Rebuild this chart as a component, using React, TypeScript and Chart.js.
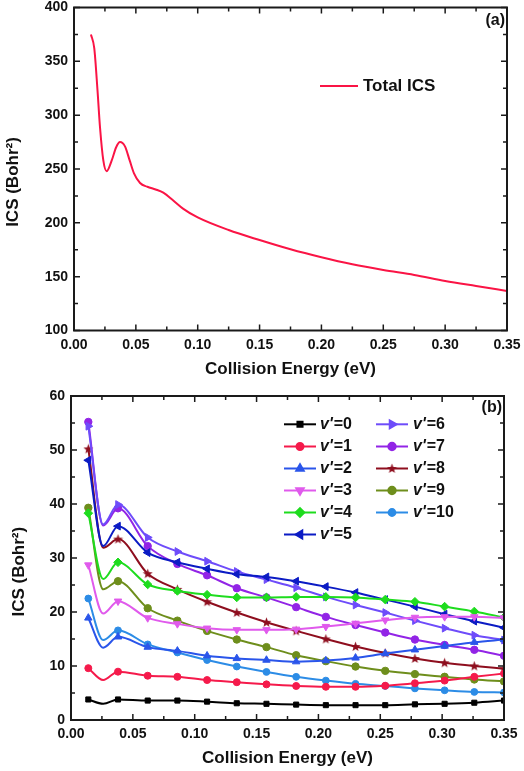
import React, { useEffect, useRef } from 'react';
import { Chart, registerables } from 'chart.js';
import { drawPoint } from 'chart.js/helpers';

Chart.register(...registerables);

const FONT = '"Liberation Sans", Arial, Helvetica, sans-serif';

// ---------- panel (a): total ICS ----------
const totalEnergies = [
  0.0137, 0.0164, 0.019, 0.021, 0.0237, 0.0264, 0.0305, 0.034, 0.0372, 0.0412,
  0.045, 0.0485, 0.0534, 0.0593, 0.066, 0.0722, 0.08, 0.0884, 0.1, 0.125,
  0.15, 0.175, 0.2, 0.225, 0.25, 0.275, 0.3, 0.325, 0.35,
];
const totalIcs = [
  375, 362, 323, 289, 258, 248, 258, 270, 275, 271,
  258, 246, 237, 233.5, 231, 228, 221, 213, 205, 193.3,
  184, 175.4, 168, 161.5, 156.2, 151.6, 146, 141.3, 136.7,
];
const totalLabel = 'Total ICS';
const yTicksA = [100, 150, 200, 250, 300, 350, 400];

// ---------- panel (b): state-resolved ICS ----------
const energies = [
  0.014, 0.026, 0.038, 0.062, 0.086, 0.11, 0.134, 0.158,
  0.182, 0.206, 0.23, 0.254, 0.278, 0.302, 0.326, 0.35,
];
const markerEnergies = [
  0.014, 0.038, 0.062, 0.086, 0.11, 0.134, 0.158,
  0.182, 0.206, 0.23, 0.254, 0.278, 0.302, 0.326, 0.35,
];
const v0 = [3.8, 3.0, 3.8, 3.6, 3.6, 3.4, 3.1, 3.0, 2.85, 2.75, 2.75, 2.75, 2.9, 3.0, 3.2, 3.6];
const v1 = [9.6, 7.4, 8.95, 8.2, 8.0, 7.4, 7.0, 6.6, 6.3, 6.15, 6.15, 6.35, 6.8, 7.3, 8.0, 8.6];
const v2 = [18.9, 13.4, 15.4, 13.5, 12.8, 11.9, 11.4, 11.1, 10.8, 11.0, 11.5, 12.3, 13.0, 13.7, 14.4, 14.9];
const v3 = [28.7, 19.7, 22.0, 18.9, 17.8, 17.0, 16.7, 16.7, 16.8, 17.3, 17.9, 18.5, 19.0, 19.1, 19.1, 18.9];
const v4 = [38.3, 26.1, 29.2, 25.1, 23.9, 23.2, 22.7, 22.7, 22.8, 22.8, 22.7, 22.3, 21.9, 21.0, 20.1, 19.0];
const v5 = [48.1, 32.2, 35.9, 31.0, 29.2, 28.0, 27.0, 26.5, 25.7, 24.7, 23.6, 22.3, 21.0, 19.6, 18.3, 17.1];
const v6 = [54.4, 36.2, 39.9, 33.8, 31.2, 29.4, 27.5, 26.0, 24.5, 22.8, 21.3, 19.9, 18.4, 17.0, 15.7, 14.8];
const v7 = [55.2, 36.0, 39.2, 32.2, 28.9, 26.8, 24.4, 22.7, 20.9, 19.1, 17.6, 16.2, 14.9, 13.9, 13.0, 11.9];
const v8 = [50.2, 31.9, 33.5, 27.1, 24.2, 21.9, 19.9, 18.1, 16.5, 15.0, 13.6, 12.4, 11.4, 10.6, 10.0, 9.5];
const v9 = [39.3, 24.2, 25.7, 20.7, 18.4, 16.5, 14.9, 13.5, 12.0, 10.9, 9.9, 9.1, 8.5, 8.0, 7.5, 7.15];
const v10 = [22.5, 14.8, 16.6, 14.0, 12.5, 11.1, 9.9, 8.9, 8.0, 7.3, 6.7, 6.3, 5.85, 5.5, 5.2, 5.1];

const seriesValues = [v0, v1, v2, v3, v4, v5, v6, v7, v8, v9, v10];
const seriesLabels = ["v'=0", "v'=1", "v'=2", "v'=3", "v'=4", "v'=5", "v'=6", "v'=7", "v'=8", "v'=9", "v'=10"];
const seriesColors = [
  '#000000', '#F51A4B', '#2A55EA', '#E05AEC', '#1EDC1E', '#0B1BC4',
  '#6E4CFA', '#9224E6', '#8E0E1E', '#6E8E1C', '#2C8CE6',
];
const seriesMarkers = ['rect', 'circle', 'triangle', 'triangle', 'rectRot', 'triangle', 'triangle', 'circle', 'star', 'circle', 'circle'];
const seriesRotations = [0, 0, 0, 180, 0, 270, 90, 0, 0, 0, 0];
const seriesRadii = [3.6, 3.5, 4.3, 4.3, 4.3, 4.5, 4.5, 3.7, 4, 3.7, 3.4];
const yTicksB = [0, 10, 20, 30, 40, 50, 60];

const xTicks = [0, 0.05, 0.1, 0.15, 0.2, 0.25, 0.3, 0.35];
const xTitle = 'Collision Energy (eV)';
const yTitle = 'ICS (Bohr\u00B2)';

function makeStar(color: string) {
  const c = document.createElement('canvas');
  c.width = 11;
  c.height = 11;
  const g = c.getContext('2d')!;
  g.fillStyle = color;
  g.beginPath();
  for (let i = 0; i < 10; i++) {
    const r = i % 2 === 0 ? 5.2 : 2.2;
    const a = -Math.PI / 2 + (i * Math.PI) / 5;
    const x = 5.5 + r * Math.cos(a);
    const y = 5.8 + r * Math.sin(a);
    if (i === 0) g.moveTo(x, y);
    else g.lineTo(x, y);
  }
  g.closePath();
  g.fill();
  return c;
}

const frameTicksPlugin = {
  id: 'frameTicks',
  afterDraw(chart: any) {
    const { ctx, chartArea } = chart;
    const { left, right, top, bottom } = chartArea;
    const xs = chart.scales.x;
    const ys = chart.scales.y;
    const xv = xs.ticks.map((t: any) => t.value);
    const yv = ys.ticks.map((t: any) => t.value);
    const mids = (a: number[]) => a.slice(1).map((v, i) => (v + a[i]) / 2);
    ctx.save();
    ctx.strokeStyle = '#1a1a1a';
    ctx.lineWidth = 1.5;
    ctx.beginPath();
    const xt = (vals: number[], len: number) => {
      vals.forEach((v) => {
        const p = xs.getPixelForValue(v);
        ctx.moveTo(p, bottom);
        ctx.lineTo(p, bottom - len);
        ctx.moveTo(p, top);
        ctx.lineTo(p, top + len);
      });
    };
    const yt = (vals: number[], len: number) => {
      vals.forEach((v) => {
        const p = ys.getPixelForValue(v);
        ctx.moveTo(left, p);
        ctx.lineTo(left + len, p);
        ctx.moveTo(right, p);
        ctx.lineTo(right - len, p);
      });
    };
    xt(xv, 6);
    xt(mids(xv), 4);
    yt(yv, 6);
    yt(mids(yv), 4);
    ctx.stroke();
    ctx.lineWidth = 2;
    ctx.strokeRect(left, top, right - left, bottom - top);
    ctx.restore();
  },
};

const annotPlugin = {
  id: 'annot',
  afterDraw(chart: any, _args: any, opts: any) {
    const { ctx } = chart;
    ctx.save();
    ctx.fillStyle = '#111';
    // y title
    ctx.translate(opts.yTitleX, opts.yTitleY);
    ctx.rotate(-Math.PI / 2);
    ctx.font = `bold 17px ${FONT}`;
    ctx.textAlign = 'center';
    ctx.textBaseline = 'middle';
    ctx.fillText(yTitle, 0, 0);
    ctx.restore();
    ctx.save();
    ctx.fillStyle = '#111';
    ctx.font = `bold 16px ${FONT}`;
    ctx.textAlign = 'right';
    ctx.textBaseline = 'middle';
    ctx.fillText(opts.panel, opts.panelX, opts.panelY);
    ctx.restore();
  },
};

const legendAPlugin = {
  id: 'legendA',
  afterDraw(chart: any) {
    const { ctx } = chart;
    const ds = chart.data.datasets[0];
    ctx.save();
    ctx.strokeStyle = ds.borderColor;
    ctx.lineWidth = 2;
    ctx.beginPath();
    ctx.moveTo(320, 86);
    ctx.lineTo(358, 86);
    ctx.stroke();
    ctx.fillStyle = '#111';
    ctx.font = `bold 17px ${FONT}`;
    ctx.textBaseline = 'middle';
    ctx.fillText(ds.label, 363, 86);
    ctx.restore();
  },
};

const legendBPlugin = {
  id: 'legendB',
  afterDraw(chart: any) {
    const { ctx } = chart;
    const rowsY = [44.3, 66.5, 88.5, 110.5, 132.5, 154.5];
    chart.data.datasets.forEach((ds: any, i: number) => {
      const col = i < 6 ? 0 : 1;
      const row = i < 6 ? i : i - 6;
      const y = rowsY[row];
      const lx0 = col === 0 ? 284 : 376;
      const tx = col === 0 ? 320 : 413;
      ctx.save();
      ctx.strokeStyle = ds.borderColor;
      ctx.fillStyle = ds.borderColor;
      ctx.lineWidth = 2;
      ctx.beginPath();
      ctx.moveTo(lx0, y);
      ctx.lineTo(lx0 + 32, y);
      ctx.stroke();
      drawPoint(ctx, {
        pointStyle: ds.pointStyle,
        rotation: ds.pointRotation || 0,
        radius: ds.legendRadius,
        borderWidth: 1,
      } as any, lx0 + 16, y);
      ctx.fillStyle = '#111';
      ctx.textBaseline = 'middle';
      const lab: string = ds.label;
      const it = lab.slice(0, 2);
      const rest = lab.slice(2);
      ctx.font = `italic bold 16px ${FONT}`;
      ctx.fillText(it, tx, y);
      const w = ctx.measureText(it).width;
      ctx.font = `bold 16px ${FONT}`;
      ctx.fillText(rest, tx + w + 1, y);
      ctx.restore();
    });
  },
};

const tickFont = { family: FONT, size: 14, weight: 'bold' as const };
const titleFont = { family: FONT, size: 17, weight: 'bold' as const };

function baseScales(yTicks: number[], yWidth: number, xHeight: number, xTitlePadBottom: number) {
  return {
    x: {
      type: 'linear' as const,
      min: 0,
      max: 0.35,
      afterBuildTicks: (s: any) => {
        s.ticks = xTicks.map((v) => ({ value: v }));
      },
      afterFit: (s: any) => {
        s.height = xHeight;
        s.paddingLeft = 0;
        s.paddingRight = 0;
      },
      grid: { display: false, drawTicks: false },
      border: { display: false },
      ticks: {
        font: tickFont,
        color: '#111',
        padding: 6,
        maxRotation: 0,
        autoSkip: false,
        callback: (v: any) => Number(v).toFixed(2),
      },
      title: {
        display: true,
        text: xTitle,
        font: titleFont,
        color: '#111',
        padding: { top: 0, bottom: xTitlePadBottom },
      },
    },
    y: {
      type: 'linear' as const,
      min: yTicks[0],
      max: yTicks[yTicks.length - 1],
      afterBuildTicks: (s: any) => {
        s.ticks = yTicks.map((v) => ({ value: v }));
      },
      afterFit: (s: any) => {
        s.width = yWidth;
        s.paddingTop = 0;
        s.paddingBottom = 0;
      },
      grid: { display: false, drawTicks: false },
      border: { display: false },
      ticks: {
        font: tickFont,
        color: '#111',
        padding: 6,
        autoSkip: false,
        callback: (v: any) => String(v),
      },
    },
  };
}

export default function App() {
  const refA = useRef<HTMLCanvasElement>(null);
  const refB = useRef<HTMLCanvasElement>(null);

  useEffect(() => {
    const chartA = new Chart(refA.current!, {
      type: 'line',
      data: {
        datasets: [
          {
            label: totalLabel,
            data: totalEnergies.map((x, i) => ({ x, y: totalIcs[i] })),
            borderColor: '#FA1445',
            borderWidth: 2,
            pointRadius: 0,
            cubicInterpolationMode: 'monotone',
            fill: false,
          },
        ],
      },
      options: {
        responsive: false,
        animation: false,
        events: [],
        layout: { padding: { left: 0, right: 17, top: 7.5, bottom: 0 } },
        plugins: {
          legend: { display: false },
          tooltip: { enabled: false },
          annot: { yTitleX: 13.5, yTitleY: 182, panel: '(a)', panelX: 505, panelY: 21 },
        } as any,
        scales: baseScales(yTicksA, 74, 49.5, 0) as any,
      },
      plugins: [frameTicksPlugin, annotPlugin, legendAPlugin],
    });

    const star = makeStar(seriesColors[8]);
    const chartB = new Chart(refB.current!, {
      type: 'line',
      data: {
        datasets: seriesValues.map((vals, i) => ({
          label: seriesLabels[i],
          data: energies.map((x, j) => ({ x, y: vals[j] })),
          borderColor: seriesColors[i],
          backgroundColor: seriesColors[i],
          pointBackgroundColor: seriesColors[i],
          pointBorderColor: seriesColors[i],
          borderWidth: 2,
          pointBorderWidth: 1,
          pointStyle: (seriesMarkers[i] === 'star' ? star : seriesMarkers[i]) as any,
          pointRotation: seriesRotations[i],
          legendRadius: seriesRadii[i],
          pointRadius: (c: any) =>
            markerEnergies.includes(energies[c.dataIndex]) ? seriesRadii[i] : 0,
          cubicInterpolationMode: 'monotone',
          fill: false,
        })) as any,
      },
      options: {
        responsive: false,
        animation: false,
        events: [],
        layout: { padding: { left: 0, right: 20, top: 16, bottom: 0 } },
        plugins: {
          legend: { display: false },
          tooltip: { enabled: false },
          annot: { yTitleX: 19, yTitleY: 191.7, panel: '(b)', panelX: 502, panelY: 28 },
        } as any,
        scales: baseScales(yTicksB, 71, 51, 2) as any,
      },
      plugins: [frameTicksPlugin, annotPlugin, legendBPlugin],
    });

    return () => {
      chartA.destroy();
      chartB.destroy();
    };
  }, []);

  return (
    <div style={{ position: 'absolute', left: 0, top: 0, width: 524, height: 771, background: '#fff' }}>
      <canvas
        ref={refA}
        width={524}
        height={380}
        style={{ position: 'absolute', left: 0, top: 0, width: 524, height: 380 }}
      />
      <canvas
        ref={refB}
        width={524}
        height={391}
        style={{ position: 'absolute', left: 0, top: 380, width: 524, height: 391 }}
      />
    </div>
  );
}
